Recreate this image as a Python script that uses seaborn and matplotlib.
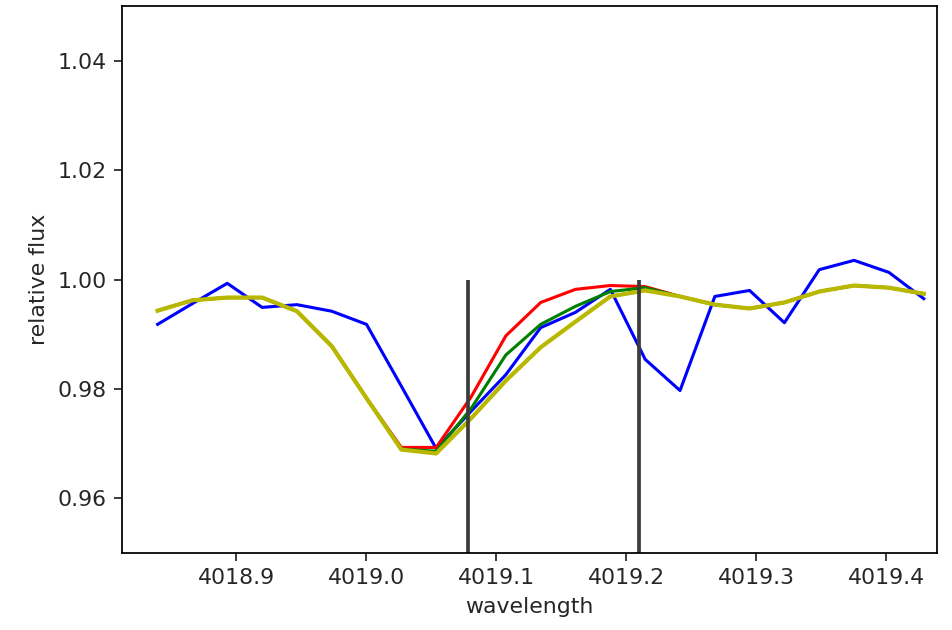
import numpy as np
import pandas as pd
import matplotlib
matplotlib.use("Agg")
import matplotlib.pyplot as plt
import seaborn as sns

wavelength = [4018.8394, 4018.8662, 4018.8930, 4018.9198, 4018.9466, 4018.9734,
              4019.0001, 4019.0269, 4019.0537, 4019.0805, 4019.1073, 4019.1341,
              4019.1609, 4019.1877, 4019.2145, 4019.2413, 4019.2681, 4019.2948,
              4019.3216, 4019.3484, 4019.3752, 4019.4020, 4019.4288]

flux_obs = [0.9918, 0.9956, 0.9993, 0.9949, 0.9954, 0.9942, 0.9918, 0.9805,
            0.9691, 0.9759, 0.9826, 0.9912, 0.9940, 0.9982, 0.9854, 0.9797,
            0.9969, 0.9980, 0.9921, 1.0018, 1.0035, 1.0013, 0.9965]

flux_red = [0.9943, 0.9962, 0.9967, 0.9967, 0.9942, 0.9878, 0.9783, 0.9693,
            0.9693, 0.9785, 0.9897, 0.9958, 0.9982, 0.9989, 0.9987, 0.9969,
            0.9954, 0.9947, 0.9958, 0.9978, 0.9989, 0.9985, 0.9974]

flux_green = [0.9943, 0.9962, 0.9967, 0.9967, 0.9942, 0.9878, 0.9783, 0.9690,
              0.9686, 0.9764, 0.9862, 0.9918, 0.9951, 0.9978, 0.9985, 0.9969,
              0.9954, 0.9947, 0.9958, 0.9978, 0.9989, 0.9985, 0.9974]

flux_yellow = [0.9943, 0.9962, 0.9967, 0.9967, 0.9942, 0.9878, 0.9783, 0.9689,
               0.9682, 0.9746, 0.9815, 0.9876, 0.9923, 0.9969, 0.9980, 0.9969,
               0.9954, 0.9947, 0.9958, 0.9978, 0.9989, 0.9985, 0.9974]

line_positions = [4019.0784, 4019.2100]

plt.rcParams['font.family'] = ['DejaVu Sans']
plt.rcParams['text.color'] = '0.15'
plt.rcParams['axes.labelcolor'] = '0.15'
plt.rcParams['xtick.color'] = '0.15'
plt.rcParams['ytick.color'] = '0.15'

dpi = 158.67
fig = plt.figure(figsize=(952 / dpi, 630 / dpi), dpi=dpi)
ax = fig.add_axes([122 / 952, 1 - 553 / 630, 815 / 952, 547 / 630])

series = [(flux_obs, '#0000ff', 1.4), (flux_red, '#ff0000', 1.4),
          (flux_green, '#008000', 1.4), (flux_yellow, '#b8b800', 1.9)]
for vals, col, lw in series:
    df = pd.DataFrame({'wavelength': wavelength, 'flux': vals})
    sns.lineplot(data=df, x='wavelength', y='flux', ax=ax, color=col,
                 sort=False, estimator=None, linewidth=lw)

ax.vlines(line_positions, 0.9, 1.0, color='#3c3c3c', linewidth=1.7)

ax.set_xlim(4018.812, 4019.439)
ax.set_ylim(0.95, 1.05)
ax.set_xticks([4018.9, 4019.0, 4019.1, 4019.2, 4019.3, 4019.4])
ax.set_xticklabels(['4018.9', '4019.0', '4019.1', '4019.2', '4019.3', '4019.4'])
ax.set_yticks([0.96, 0.98, 1.00, 1.02, 1.04])
ax.set_yticklabels(['0.96', '0.98', '1.00', '1.02', '1.04'])
ax.set_xlabel('wavelength')
ax.set_ylabel('relative flux')

fig.savefig('out.png', dpi=dpi)
